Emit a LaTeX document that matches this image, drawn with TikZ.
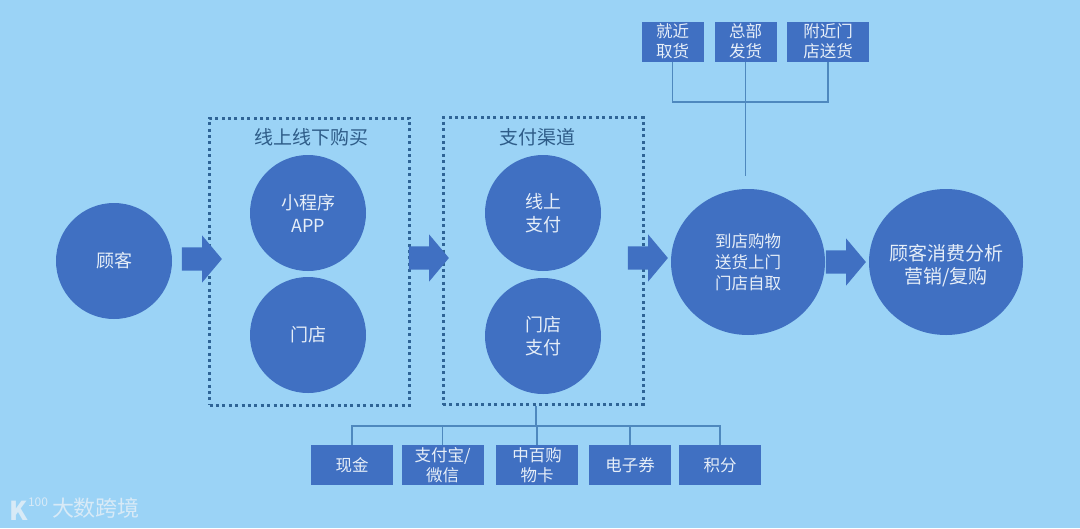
\documentclass[tikz,border=0pt]{standalone}
\usepackage{fontspec}
\setmainfont{Noto Sans CJK SC}
\usepackage{xcolor}
\usetikzlibrary{calc,positioning,shapes.geometric,shapes.arrows}
\definecolor{bgblue}{HTML}{9BD3F6}
\definecolor{mainblue}{HTML}{4070C2}
\definecolor{linkblue}{HTML}{4E88BE}
\definecolor{dotblue}{HTML}{2F6496}
\definecolor{lighttext}{HTML}{E6EEF8}
\definecolor{titletext}{HTML}{2E5C88}
\definecolor{marktext}{HTML}{D8EAF6}
\tikzset{
  bigcircle/.style={
    circle,
    fill=mainblue,
    minimum size=116pt,
    inner sep=0pt,
    text=lighttext,
    align=center,
    font=\fontsize{18}{23}\selectfont,
  },
  bigellipse/.style={
    ellipse,
    fill=mainblue,
    minimum width=154pt,
    minimum height=146pt,
    inner sep=-12pt,
    text=lighttext,
    align=center,
  },
  flowarrow/.style={
    single arrow,
    fill=mainblue,
    inner xsep=0pt,
    inner ysep=11.5pt,
    minimum height=40pt,
    single arrow head extend=12pt,
    single arrow tip angle=100,
  },
  paybox/.style={
    rectangle,
    fill=mainblue,
    minimum width=82pt,
    minimum height=40pt,
    inner sep=0pt,
    text=lighttext,
    align=center,
    font=\fontsize{16.5}{20}\selectfont,
  },
  shipbox/.style={paybox, minimum width=62pt},
  groupbox/.style={
    draw=dotblue,
    line width=3pt,
    dash pattern=on 3pt off 3.4pt,
    minimum width=200pt,
    minimum height=287pt,
    inner sep=0pt,
  },
  grouptitle/.style={
    text=titletext,
    font=\fontsize{19}{23}\selectfont,
  },
  link/.style={draw=linkblue, line width=1.5pt},
  marklabel/.style={text=marktext, inner sep=0pt},
}

\begin{document}
\begin{tikzpicture}[x=1pt,y=-1pt]
  \fill[bgblue] (0,0) rectangle (1080,528);
  \useasboundingbox (0,0) rectangle (1080,528);

  % dotted groups
  \node[groupbox] (G1) at (309.5,261.5) {};
  \node[groupbox] (G2) at (543,261) {};
  \node[grouptitle] (T1) at (311,137) {线上线下购买};
  \node[grouptitle] (T2) at (537,137) {支付渠道};

  % circles
  \node[bigcircle] (C0) at (114,261) {顾客};
  \node[bigcircle] (C1) at (308,213) {小程序\\APP};
  \node[bigcircle] (C2) at (308,335) {门店};
  \node[bigcircle] (C3) at (543,213) {线上\\支付};
  \node[bigcircle] (C4) at (543,336) {门店\\支付};
  \node[bigellipse, font=\fontsize{16.5}{21}\selectfont] (C5) at (748,262) {到店购物\\送货上门\\门店自取};
  \node[bigellipse, font=\fontsize{19}{23}\selectfont] (C6) at (946,262) {\rule{0pt}{23pt}顾客消费分析\\营销/复购};

  % arrows
  \node[flowarrow] (A1) at (197,259) {};
  \node[flowarrow] (A2) at (424,258) {};
  \node[flowarrow] (A3) at (643,258) {};
  \node[flowarrow] (A4) at (841,262) {};

  % top boxes
  \foreach \x/\txt [count=\j from 1] in {672.5/{就近\\取货},745.5/{总部\\发货}} {
    \node[shipbox] (S\j) at (\x,41.5) {\txt};
  }
  \node[shipbox, minimum width=82pt] (S3) at (828,41.5) {附近门\\店送货};
  \coordinate (Sbar) at (745.5,102);
  \coordinate (Send) at (745.5,176);
  \draw[link] (S1.south) |- (Sbar) -| (S3.south);
  \draw[link] (S2.south) -- (Send);

  % bottom boxes
  \foreach \x/\txt [count=\j from 1] in {352/{现金},442.5/{支付宝/\\微信},537/{中百购\\物卡},630/{电子券},720/{积分}} {
    \node[paybox] (P\j) at (\x,465) {\txt};
  }
  \coordinate (Pbar) at (536,426);
  \draw[link] (G2.south -| Pbar) -- (Pbar);
  \draw[link] (P1.north) |- (Pbar) -| (P5.north);
  \foreach \j in {2,3,4} {
    \draw[link] (P\j.north) -- (P\j.north |- Pbar);
  }

  % watermark
  \node[marklabel, font=\fontsize{22}{24}\selectfont] (W1) at (96,508) {大数跨境};
  \node[marklabel, font=\bfseries\fontsize{26}{28}\selectfont] (W2) at (19,511) {K};
  \node[marklabel, font=\fontsize{12}{13}\selectfont] (W3) at (38,502) {100};
\end{tikzpicture}
\end{document}
